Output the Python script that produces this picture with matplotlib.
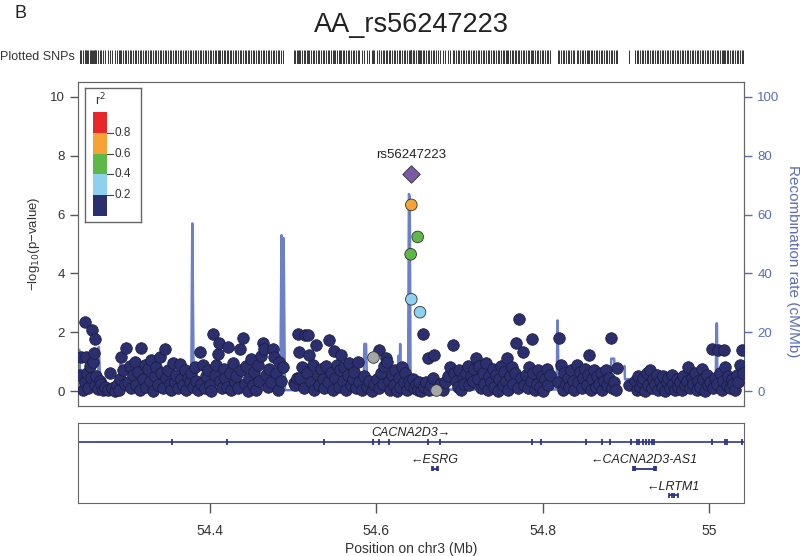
import matplotlib
matplotlib.use('Agg')
import matplotlib.pyplot as plt
from matplotlib.patches import Rectangle

plt.rcParams['font.family'] = ['Liberation Sans', 'DejaVu Sans']

# lead SNP
lead_name = 'rs56247223'
lead_pos = 54.6422
lead_logp = 7.37

# SNPs with LD to the lead (r2 >= 0.2)
ld_pos = [54.6424, 54.6500, 54.6416, 54.6424, 54.6528]
ld_logp = [6.33, 5.24, 4.65, 3.12, 2.68]
ld_r2 = [0.65, 0.50, 0.45, 0.30, 0.25]

# SNPs with no LD information
na_pos = [54.596, 54.672]
na_logp = [1.16, 0.03]

# remaining SNPs (r2 < 0.2)
snp_pos = [
    54.244, 54.246, 54.248, 54.250, 54.251, 54.252, 54.253, 54.254, 54.256, 54.258, 54.259, 54.260,
    54.261, 54.262, 54.263, 54.264, 54.266, 54.268, 54.270, 54.272, 54.275, 54.278, 54.280, 54.283,
    54.286, 54.289, 54.291, 54.293, 54.294, 54.296, 54.298, 54.300,
    54.302, 54.304, 54.306, 54.308, 54.310, 54.312, 54.314, 54.316, 54.318, 54.320, 54.322, 54.324,
    54.326, 54.328, 54.330, 54.332, 54.334, 54.336, 54.338, 54.340, 54.342, 54.344, 54.346, 54.348,
    54.350, 54.352, 54.354, 54.356, 54.358,
    54.360, 54.362, 54.364, 54.366, 54.368, 54.370, 54.372, 54.374, 54.376, 54.378, 54.380, 54.382,
    54.384, 54.386, 54.388, 54.390, 54.392, 54.394, 54.396, 54.398, 54.400, 54.402, 54.404, 54.406,
    54.408, 54.410, 54.411, 54.413, 54.415, 54.417, 54.419,
    54.421, 54.422, 54.424, 54.426, 54.428, 54.430, 54.432, 54.434, 54.436, 54.438, 54.440, 54.442,
    54.444, 54.446, 54.448, 54.450, 54.452, 54.454, 54.456, 54.458, 54.460, 54.462, 54.464, 54.466,
    54.468, 54.470, 54.472, 54.474, 54.476, 54.478,
    54.480, 54.482, 54.484, 54.486, 54.488, 54.501, 54.503, 54.505, 54.506, 54.507, 54.509, 54.511,
    54.513, 54.515, 54.517, 54.518, 54.520, 54.522, 54.524, 54.526, 54.528, 54.530, 54.532, 54.534,
    54.536, 54.538,
    54.540, 54.542, 54.544, 54.546, 54.548, 54.549, 54.551, 54.553, 54.555, 54.557, 54.558, 54.560,
    54.562, 54.564, 54.566, 54.568, 54.570, 54.572, 54.574, 54.576, 54.578, 54.580, 54.583, 54.586,
    54.589, 54.592, 54.595, 54.598,
    54.601, 54.603, 54.604, 54.606, 54.608, 54.610, 54.612, 54.613, 54.615, 54.617, 54.619, 54.621,
    54.623, 54.625, 54.627, 54.629, 54.631, 54.633, 54.635, 54.637, 54.639, 54.641, 54.644, 54.646,
    54.648, 54.650, 54.652, 54.654, 54.656, 54.658,
    54.660, 54.662, 54.664, 54.666, 54.668, 54.670, 54.674, 54.677, 54.680, 54.683, 54.686, 54.689,
    54.692, 54.694, 54.696, 54.698, 54.700, 54.702, 54.704, 54.706, 54.708, 54.710, 54.712, 54.714,
    54.716, 54.718, 54.720,
    54.722, 54.724, 54.726, 54.728, 54.730, 54.732, 54.734, 54.736, 54.738, 54.740, 54.742, 54.744,
    54.746, 54.748, 54.750, 54.752, 54.754, 54.756, 54.757, 54.759, 54.761, 54.763, 54.765, 54.767,
    54.768, 54.770, 54.772, 54.774, 54.776, 54.778,
    54.780, 54.782, 54.784, 54.786, 54.787, 54.789, 54.791, 54.793, 54.795, 54.797, 54.799, 54.801,
    54.803, 54.805, 54.807, 54.809, 54.819, 54.820, 54.822, 54.824, 54.826, 54.828, 54.830, 54.832,
    54.834, 54.836, 54.838,
    54.841, 54.843, 54.845, 54.847, 54.849, 54.851, 54.853, 54.855, 54.856, 54.858, 54.860, 54.862,
    54.864, 54.866, 54.868, 54.870, 54.872, 54.874, 54.876, 54.878, 54.880, 54.882, 54.884, 54.886,
    54.888, 54.890,
    54.904, 54.911, 54.913, 54.915, 54.917, 54.919, 54.921, 54.923, 54.925, 54.927, 54.929, 54.931,
    54.933, 54.935, 54.937, 54.939, 54.941, 54.943, 54.945, 54.947, 54.949, 54.951, 54.953, 54.955,
    54.957, 54.959,
    54.961, 54.963, 54.965, 54.967, 54.969, 54.971, 54.973, 54.975, 54.977, 54.979, 54.981, 54.983,
    54.985, 54.987, 54.989, 54.991, 54.993, 54.995, 54.997, 54.999, 55.001, 55.003, 55.005, 55.007,
    55.009, 55.011, 55.013, 55.015, 55.017, 55.018, 55.019, 55.021, 55.023, 55.025, 55.027, 55.029,
    55.031, 55.033, 55.035, 55.037, 55.039, 55.041,
]
snp_logp = [
    0.55, 1.15, 0.05, 2.35, 0.30, 1.17, 0.62, 0.10, 0.85, 0.45, 2.06, 0.98,
    1.28, 0.20, 1.76, 0.50, 0.08, 0.35, 0.25, 0.05, 0.15, 0.02, 0.62, 0.10,
    0.00, 0.20, 0.05, 0.40, 1.17, 0.70, 0.25, 1.47,
    0.30, 0.85, 0.10, 0.55, 1.00, 0.20, 0.65, 0.05, 1.47, 0.40, 0.90, 0.15,
    0.75, 0.35, 1.05, 0.00, 0.50, 0.80, 0.20, 1.15, 0.60, 0.10, 1.44, 0.45,
    0.70, 0.25, 0.05, 0.95, 0.30,
    0.55, 0.10, 0.93, 0.40, 0.20, 0.70, 0.05, 0.45, 0.30, 0.60, 0.15, 0.80,
    0.35, 0.05, 1.33, 0.25, 0.90, 0.10, 0.50, 0.70, 0.20, 0.00, 1.94, 0.55,
    0.90, 1.25, 1.62, 0.35, 0.10, 0.75, 0.45,
    0.15, 1.51, 0.60, 0.05, 0.95, 0.30, 0.50, 0.10, 1.44, 0.70, 1.80, 0.25,
    0.85, 0.00, 0.45, 1.10, 0.20, 0.65, 0.05, 0.90, 0.35, 1.20, 1.62, 1.44,
    0.55, 0.15, 0.75, 0.30, 1.44, 1.16,
    0.60, 0.05, 1.00, 0.35, 0.80, 0.28, 0.20, 0.45, 1.94, 1.33, 0.45, 0.80,
    0.10, 1.92, 0.60, 1.92, 1.24, 0.30, 0.90, 0.05, 1.58, 0.55, 0.20, 0.75,
    0.40, 0.10,
    0.85, 0.30, 1.75, 0.60, 0.05, 1.35, 0.45, 0.90, 0.15, 0.70, 1.24, 0.35,
    0.80, 0.05, 0.55, 0.95, 0.20, 0.40, 0.65, 0.10, 1.00, 0.30, 0.05, 0.50,
    0.15, 0.35, 0.00, 0.25,
    0.40, 0.10, 1.41, 0.60, 0.25, 0.85, 1.13, 1.00, 0.35, 0.05, 0.55, 0.20,
    0.70, 0.00, 0.45, 0.15, 0.80, 0.30, 0.60, 0.05, 0.35, 0.20, 0.40, 0.10,
    0.25, 0.05, 0.30, 0.00, 1.94, 0.15,
    0.30, 1.13, 0.05, 0.20, 0.45, 1.24, 0.10, 0.25, 0.05, 0.30, 0.50, 0.80,
    1.58, 0.60, 0.35, 0.15, 0.70, 0.05, 0.45, 0.25, 0.60, 0.85, 0.20, 0.50,
    0.35, 0.75, 1.13,
    0.40, 0.85, 0.10, 0.60, 0.25, 0.95, 0.05, 0.50, 0.30, 0.75, 0.15, 0.55,
    0.00, 0.40, 0.85, 0.20, 0.65, 0.35, 1.13, 0.05, 0.50, 0.80, 0.25, 0.60,
    1.62, 0.10, 2.44, 0.45, 1.34, 0.20,
    0.55, 0.10, 0.80, 0.35, 1.78, 0.60, 0.05, 0.25, 0.70, 0.15, 0.50, 0.00,
    0.40, 0.75, 0.20, 0.55, 0.30, 1.81, 0.90, 0.05, 0.60, 0.25, 0.45, 0.15,
    0.70, 0.35, 0.05,
    0.90, 0.30, 0.65, 0.10, 0.45, 0.75, 0.20, 0.55, 1.24, 0.05, 0.40, 0.70,
    0.15, 0.50, 0.25, 0.60, 0.05, 0.35, 0.70, 0.20, 0.45, 1.81, 0.10, 0.30,
    0.05, 0.77,
    0.20, 0.35, 0.05, 0.50, 0.15, 0.30, 0.45, 0.00, 0.60, 0.20, 0.71, 0.10,
    0.40, 0.25, 0.55, 0.05, 0.35, 0.15, 0.50, 0.00, 0.30, 0.45, 0.10, 0.55,
    0.25, 0.05,
    0.40, 0.15, 0.30, 0.05, 0.50, 0.20, 0.35, 0.82, 0.10, 0.45, 0.25, 0.60,
    0.05, 0.35, 0.15, 0.75, 0.40, 0.00, 0.55, 0.20, 0.30, 1.44, 0.10, 0.45,
    0.25, 1.41, 0.60, 0.05, 0.35, 1.38, 0.83, 0.20, 0.50, 0.10, 0.40, 0.25,
    0.05, 0.55, 0.30, 0.88, 1.40, 0.60,
]

# recombination rate (cM/Mb)
recomb_pos = [54.242, 54.2435, 54.245, 54.266, 54.267, 54.269, 54.292, 54.293, 54.296,
              54.378, 54.3793, 54.381, 54.485, 54.4865, 54.4875, 54.489, 54.4905,
              54.585, 54.586, 54.588, 54.5895, 54.626, 54.627, 54.628, 54.629, 54.630,
              54.6385, 54.6395, 54.6405, 54.6415, 54.817, 54.818, 54.8195,
              54.882, 54.8825, 54.886, 54.8865, 54.897, 54.8985, 54.899, 54.905, 54.910,
              55.008, 55.009, 55.0095, 55.010, 55.042]
recomb_rate = [13, 14, 1, 1, 15, 1, 1, 10, 1,
               0.5, 57, 0.5, 0.5, 53, 5, 52, 0.3,
               0.3, 16, 16, 0.3, 0.3, 12, 1, 16, 1,
               1, 67, 66, 0.5, 0.5, 24, 1.5,
               1, 11, 11, 8.5, 8, 8.5, 4, 4, 3,
               3, 23, 23, 2, 2]

# genes
gene_names = ['CACNA2D3', 'ESRG', 'CACNA2D3-AS1', 'LRTM1']
gene_start = [54.156, 54.6672, 54.9087, 54.9519]
gene_end = [55.108, 54.6744, 54.9363, 54.9627]
gene_strand = ['+', '-', '-', '-']
gene_exons = [
    [54.3546, 54.4206, 54.5379, 54.5967, 54.6039, 54.6159, 54.6621, 54.6768, 54.7870, 54.7982,
     54.8519, 54.8718, 54.8810, 54.9059, 54.9131, 54.9159, 54.9203, 54.9239, 54.9279, 54.9319,
     54.9343, 55.0032, 55.0192, 55.0220, 55.0400],
    [54.6672, 54.6682, 54.6734, 54.6744],
    [54.9087, 54.9093, 54.9099, 54.9105, 54.9111, 54.9335, 54.9349, 54.9363],
    [54.9519, 54.9560, 54.9575, 54.9627],
]

r2_bins = [0.2, 0.4, 0.6, 0.8]
r2_colors = ['#2b2f6e', '#8ed0f0', '#5db848', '#f6a335', '#e6282b']
recomb_color = '#6b80c6'
axis_blue = '#5a6cb2'

xmin, xmax = 54.242, 55.042


def r2_color(r):
    k = sum(r >= b for b in r2_bins)
    return r2_colors[k]


W, H = 800, 556
fig = plt.figure(figsize=(8, 5.56), dpi=100)


def fig_rect(x0, y0, x1, y1):
    return [x0 / W, 1 - y1 / H, (x1 - x0) / W, (y1 - y0) / H]


# main association panel
ax2 = fig.add_axes(fig_rect(78, 82, 744, 406))
ax = ax2.twinx()
ax.yaxis.tick_left()
ax.yaxis.set_label_position('left')
ax2.yaxis.tick_right()

ax2.plot(recomb_pos, recomb_rate, color=recomb_color, lw=1.8, zorder=1)
ax2.set_xlim(xmin, xmax)
ax2.set_ylim(-5.1, 105.1)
ax2.set_yticks(range(0, 101, 20))
ax2.tick_params(axis='y', colors=axis_blue, labelsize=9.5, length=6, width=1)
ax2.set_xticks([])
for s in ax2.spines.values():
    s.set_color('#666666')
fig.text(793 / W, 1 - 261 / H, 'Recombination rate (cM/Mb)', rotation=270, ha='center', va='center',
         fontsize=11, color=axis_blue)

ax.scatter(snp_pos, snp_logp, s=70, c=r2_colors[0], edgecolors='#1a1a3a', linewidths=0.5, zorder=3)
ax.scatter(na_pos, na_logp, s=70, c='#a6a6a6', edgecolors='#333333', linewidths=0.6, zorder=3)
ax.scatter(ld_pos, ld_logp, s=70, c=[r2_color(r) for r in ld_r2],
           edgecolors='#333333', linewidths=0.6, zorder=4)
ax.scatter([lead_pos], [lead_logp], s=80, marker='D', c='#7a5ba3',
           edgecolors='#333333', linewidths=0.6, zorder=5)
ax.text(lead_pos, lead_logp + 0.45, lead_name, ha='center', va='bottom', fontsize=9.5, color='#222222')
ax.set_xlim(xmin, xmax)
ax.set_ylim(-0.51, 10.51)
ax.set_yticks(range(0, 11, 2))
ax.tick_params(axis='y', colors='#555555', labelcolor='#333333', labelsize=9.5, length=6, width=1)
ax.set_xticks([])
ax.set_ylabel('\u2212log$_{10}$(p\u2212value)', fontsize=9.5, color='#333333', labelpad=6)
for s in ax.spines.values():
    s.set_color('#666666')

# r2 legend
lg = fig.add_axes(fig_rect(85, 88, 141, 222))
lg.set_xlim(0, 56)
lg.set_ylim(0, 134)
lg.set_xticks([])
lg.set_yticks([])
for s in lg.spines.values():
    s.set_color('#666666')
    s.set_linewidth(1)
bin_h = 104 / 5
for i, col in enumerate(r2_colors):
    lg.add_patch(Rectangle((8, 6 + i * bin_h), 14, bin_h, facecolor=col, edgecolor='none'))
for i, b in enumerate(r2_bins):
    yb = 6 + (i + 1) * bin_h
    lg.plot([22, 28], [yb, yb], color='#444444', lw=0.8)
    lg.text(29.5, yb, str(b), va='center', ha='left', fontsize=8.5, color='#333333')
lg.text(15, 122, 'r$^2$', ha='center', va='center', fontsize=9, color='#333333')

# plotted SNPs rug
rug = fig.add_axes(fig_rect(78, 50, 744, 64))
all_pos = snp_pos + na_pos + ld_pos + [lead_pos]
rug.vlines(all_pos, 0, 1, color='#3a3a3a', lw=0.75)
rug.set_xlim(xmin, xmax)
rug.set_ylim(0, 1)
rug.axis('off')
fig.text(75 / W, 1 - 57 / H, 'Plotted SNPs', ha='right', va='center', fontsize=9, color='#333333')

# gene panel
gx = fig.add_axes(fig_rect(78, 423, 744, 503))
gx.set_xlim(xmin, xmax)
gx.set_ylim(0, 80)
gx.set_yticks([])
gx.set_xticks([54.4, 54.6, 54.8, 55.0])
gx.set_xticklabels(['54.4', '54.6', '54.8', '55'])
gx.tick_params(axis='x', colors='#555555', labelcolor='#333333', labelsize=10, length=7, width=1, pad=8)
gx.set_xlabel('Position on chr3 (Mb)', fontsize=10, color='#333333', labelpad=3)
for s in gx.spines.values():
    s.set_color('#666666')

gene_row = [61.3, 34.5, 34.5, 8]
label_row = [70, 43, 43, 16.3]
for name, st, en, strand, ex, gy, ly in zip(gene_names, gene_start, gene_end, gene_strand,
                                             gene_exons, gene_row, label_row):
    gx.plot([st, en], [gy, gy], color='#3c4494' if name == 'CACNA2D3' else '#2e3486',
            lw=1.3, solid_capstyle='butt')
    h = 3 if name == 'CACNA2D3' else 2.5
    gx.vlines(ex, gy - h, gy + h, color='#2e3486', lw=1.3)
    cx = (max(st, xmin) + min(en, xmax)) / 2
    label = name + '\u2192' if strand == '+' else '\u2190' + name
    gx.text(cx, ly, label, ha='center', va='center', fontsize=9, style='italic', color='#222222')

fig.text(411 / W, 1 - 25 / H, 'AA_' + lead_name, ha='center', va='center', fontsize=19.5, color='#222222')
fig.text(14 / W, 1 - 13 / H, 'B', ha='left', va='center', fontsize=13, color='#222222')

fig.savefig('out.png', dpi=100)
